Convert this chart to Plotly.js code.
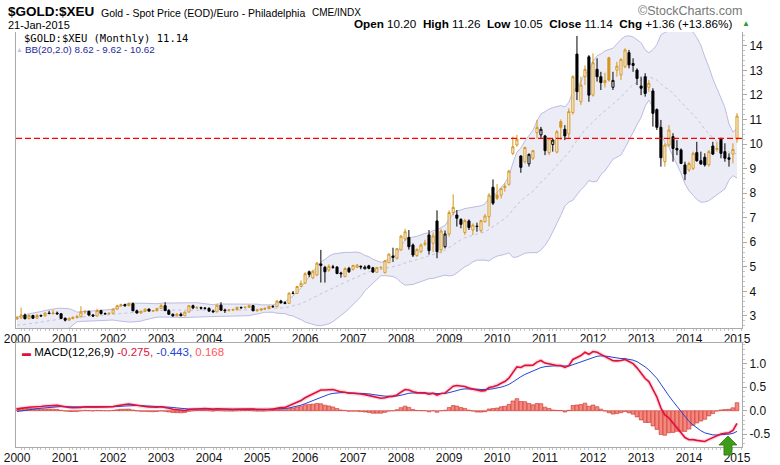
<!DOCTYPE html>
<html><head><meta charset="utf-8">
<script src="https://cdn.plot.ly/plotly-3.0.1.min.js"></script>
<style>html,body{margin:0;padding:0;background:#fff;}#chart{width:780px;height:465px;}</style>
</head><body><div id="chart"></div>
<script>
// ---- data (monthly, Jan 2000 .. Jan 2015) ----
const startYear = 2000;
// closes Jan 1998 .. Dec 1999, only used to warm up BB(20) and MACD
const priorClose = [2.81,2.72,2.78,2.82,2.64,2.69,2.62,2.44,2.49,2.50,2.53,2.46,
                    2.51,2.61,2.60,2.71,2.58,2.53,2.39,2.40,2.79,2.83,2.90,2.88];
const open = [
 2.88,2.92,3.04,2.89,3.02,2.91,3.02,3.00,3.12,3.10,3.12,3.09,
 2.90,2.83,2.90,2.94,2.97,3.16,3.19,3.04,3.00,3.22,3.10,3.09,
 3.11,3.28,3.42,3.46,3.42,3.50,3.21,3.12,3.19,3.28,3.20,3.22,
 3.31,3.42,3.22,3.07,3.01,3.07,3.01,3.16,3.42,3.33,3.34,3.32,
 3.31,3.20,3.17,3.44,3.24,3.22,3.25,3.26,3.35,3.34,3.35,3.42,
 3.21,3.24,3.28,3.30,3.39,3.38,3.61,3.54,3.51,3.93,3.92,4.20,
 4.34,4.80,4.55,4.67,5.12,4.98,4.87,5.00,4.99,4.75,4.60,4.94,
 4.90,4.98,5.02,4.92,5.04,4.96,4.78,4.97,4.76,5.17,5.44,5.35,
 5.69,6.13,6.20,5.89,5.46,5.62,5.92,6.30,5.96,6.87,5.69,5.82,
 6.34,7.21,7.11,6.93,6.40,6.87,6.50,6.66,6.47,6.84,7.04,8.24,
 7.92,7.92,8.23,8.36,9.62,9.96,9.51,9.28,9.19,9.42,10.46,10.37,
 10.33,9.65,9.98,9.67,10.91,10.60,10.41,11.28,13.66,11.72,12.74,13.55,
 11.99,13.04,12.74,12.50,13.51,12.31,13.01,12.81,13.15,13.72,13.28,13.01,
 12.36,12.74,12.31,12.16,11.40,10.68,9.28,9.96,10.30,9.82,9.76,9.15,
 8.94,9.01,9.65,9.32,9.46,9.15,9.92,9.78,10.23,9.69,9.44,9.59,
 10.20];
const high = [
 3.00,3.34,3.10,3.06,3.05,3.08,3.06,3.14,3.21,3.25,3.18,3.12,
 2.95,2.94,2.99,3.05,3.40,3.22,3.21,3.08,3.30,3.25,3.14,3.14,
 3.30,3.46,3.50,3.50,3.55,3.55,3.26,3.22,3.30,3.30,3.24,3.33,
 3.50,3.56,3.28,3.10,3.12,3.14,3.18,3.44,3.46,3.40,3.38,3.36,
 3.35,3.26,3.46,3.56,3.30,3.28,3.30,3.38,3.38,3.40,3.46,3.45,
 3.28,3.32,3.36,3.42,3.44,3.64,3.66,3.60,3.96,4.02,4.22,4.45,
 4.78,4.85,4.88,5.20,5.69,5.04,5.10,5.08,5.03,4.80,4.98,5.00,
 5.08,5.12,5.06,5.06,5.08,5.00,5.00,5.02,5.27,5.55,5.78,5.76,
 6.30,6.55,6.50,5.95,5.75,5.95,6.10,6.50,6.40,7.30,6.55,6.48,
 7.30,7.95,7.31,6.98,6.95,6.93,6.77,6.80,6.92,7.15,8.00,8.56,
 8.37,8.20,8.40,8.95,10.30,10.37,9.55,9.89,9.62,9.76,10.98,10.70,
 10.37,10.25,10.23,10.57,11.00,10.77,11.45,12.80,14.40,12.75,13.20,13.62,
 13.69,13.49,12.94,12.90,13.55,12.94,13.35,13.49,13.90,13.83,13.49,13.08,
 12.74,12.88,12.60,12.27,11.45,10.98,10.03,10.77,10.44,10.16,9.82,9.28,
 9.28,9.69,10.09,9.69,9.62,9.76,10.09,10.09,10.23,10.03,9.62,10.03,
 11.26];
const low = [
 2.85,2.90,2.86,2.87,2.88,2.89,2.97,2.98,3.07,3.05,3.05,2.88,
 2.78,2.80,2.86,2.90,2.95,3.08,3.00,2.96,2.98,3.06,3.05,3.05,
 3.09,3.25,3.38,3.38,3.40,3.20,3.10,3.10,3.16,3.18,3.16,3.19,
 3.28,3.20,3.04,2.96,2.98,2.99,2.99,3.14,3.28,3.28,3.26,3.26,
 3.16,3.14,3.15,3.20,3.12,3.18,3.20,3.22,3.28,3.30,3.33,3.20,
 3.18,3.20,3.24,3.28,3.33,3.36,3.50,3.48,3.50,3.88,3.90,4.18,
 4.30,4.58,4.50,4.62,4.36,4.36,4.80,4.92,4.70,4.56,4.58,4.75,
 4.85,4.95,4.90,4.90,4.90,4.75,4.76,4.88,4.74,5.15,5.20,5.30,
 5.66,6.05,5.70,5.40,5.40,5.55,5.85,5.50,5.60,5.35,5.55,5.75,
 6.23,7.10,6.64,6.57,6.30,6.50,6.30,6.43,6.40,6.80,6.64,7.52,
 7.72,7.78,8.06,8.30,9.55,9.89,8.83,9.21,9.08,9.35,10.23,10.23,
 9.55,9.55,9.69,9.62,10.16,10.16,10.20,11.20,11.79,11.59,12.40,11.72,
 11.93,12.54,12.20,12.30,12.54,12.20,12.74,12.60,13.08,13.08,12.94,12.40,
 11.99,11.93,12.13,10.71,10.57,9.08,9.08,9.89,9.28,9.55,9.21,8.53,
 8.87,8.94,9.28,9.15,9.08,9.08,9.55,9.69,9.42,9.28,9.08,9.21,
 10.05];
const close = [
 2.92,3.04,2.89,3.02,2.91,3.02,3.00,3.12,3.10,3.12,3.09,2.90,
 2.83,2.90,2.94,2.97,3.16,3.19,3.04,3.00,3.22,3.10,3.09,3.11,
 3.28,3.42,3.46,3.42,3.50,3.21,3.12,3.19,3.28,3.20,3.22,3.31,
 3.42,3.22,3.07,3.01,3.07,3.01,3.16,3.42,3.33,3.34,3.32,3.31,
 3.20,3.17,3.44,3.24,3.22,3.25,3.26,3.35,3.34,3.35,3.42,3.21,
 3.24,3.28,3.30,3.39,3.38,3.61,3.54,3.51,3.93,3.92,4.20,4.33,
 4.72,4.69,4.82,5.15,5.06,4.80,5.02,4.98,4.73,4.72,4.93,4.80,
 5.06,5.07,5.00,4.99,4.94,4.79,4.97,4.98,5.25,5.52,5.39,5.74,
 6.25,6.43,5.82,5.48,5.71,5.89,5.96,5.66,6.26,5.62,6.46,6.34,
 7.21,7.42,6.98,6.73,6.88,6.60,6.70,6.64,6.88,7.07,7.92,7.59,
 7.79,8.20,8.28,8.90,9.89,10.19,9.05,9.86,9.58,9.73,10.68,10.60,
 9.73,10.22,10.16,10.50,10.68,10.33,11.32,12.74,12.13,12.40,13.04,11.99,
 13.31,12.74,12.50,12.58,12.60,12.59,13.17,13.45,13.83,13.22,13.20,12.67,
 12.27,12.06,12.47,11.25,10.68,9.44,9.96,10.57,9.82,9.76,9.21,8.78,
 9.21,9.62,9.32,9.19,9.15,9.69,9.59,9.82,9.62,9.42,9.38,9.78,
 11.14];
const resistanceLevel = 10.23;
const arrowDate = '2014-10-24';
const headerTitle = '$GOLD:$XEU';
const headerName = 'Gold - Spot Price (EOD)/Euro - Philadelphia';
const headerExch = 'CME/INDX';
const headerDate = '21-Jan-2015';
const quoteText = '<b>Open</b> 10.20  <b>High</b> 11.26  <b>Low</b> 10.05  <b>Close</b> 11.14  <b>Chg</b> +1.36 (+13.86%)';
const legendPrice = '$GOLD:$XEU (Monthly) 11.14';
const legendBB = 'BB(20,2.0) 8.62 - 9.62 - 10.62';
const macdValues = ['-0.275', '-0.443', '0.168'];
const macdTickVals = [-0.5, 0, 0.5, 1.0];
const macdTickText = ['-0.5', '0.0', '0.5', '1.0'];

// ---- derived ----
const months = close.map((_, i) => {
  const y = startYear + Math.floor(i / 12), m = i % 12 + 1;
  return y + '-' + (m < 10 ? '0' + m : m) + '-01';
});
const allClose = priorClose.concat(close);
const P = priorClose.length;
function ema(a, n) { const k = 2 / (n + 1); const out = []; let p = a[0];
  a.forEach((v, i) => { p = i === 0 ? v : v * k + p * (1 - k); out.push(p); }); return out; }
const e12 = ema(allClose, 12), e26 = ema(allClose, 26);
const macdAll = e12.map((v, i) => v - e26[i]);
const sigAll = ema(macdAll, 9);
const macd = macdAll.slice(P), signal = sigAll.slice(P);
const hist = macd.map((v, i) => v - signal[i]);
const bbMid = [], bbUp = [], bbLo = [];
for (let i = P; i < allClose.length; i++) {
  const w = allClose.slice(i - 19, i + 1);
  const m = w.reduce((s, v) => s + v, 0) / 20;
  const sd = Math.sqrt(w.reduce((s, v) => s + (v - m) * (v - m), 0) / 20);
  bbMid.push(m); bbUp.push(m + 2 * sd); bbLo.push(m - 2 * sd);
}
const prevClose = [priorClose[P - 1]].concat(close.slice(0, -1));
const upIdx = [], dnIdx = [];
close.forEach((c, i) => (c >= prevClose[i] ? upIdx : dnIdx).push(i));

const ORANGE = '#d4961e', BLACK = '#000000';
function candles(idx, color) {
  return { type: 'candlestick', xaxis: 'x', yaxis: 'y3',
    x: idx.map(i => months[i]), open: idx.map(i => open[i]), high: idx.map(i => high[i]),
    low: idx.map(i => low[i]), close: idx.map(i => close[i]),
    increasing: { line: { color: color, width: 1 }, fillcolor: '#ffffff' },
    decreasing: { line: { color: color, width: 1 }, fillcolor: color },
    whiskerwidth: 0, hoverinfo: 'skip', showlegend: false };
}

const traces = [
  { type: 'scatter', mode: 'lines', x: months, y: bbLo, line: { color: '#bcbce0', width: 1 }, hoverinfo: 'skip', xaxis: 'x', yaxis: 'y' },
  { type: 'scatter', mode: 'lines', x: months, y: bbUp, line: { color: '#bcbce0', width: 1 }, fill: 'tonexty', fillcolor: '#ececf7', hoverinfo: 'skip', xaxis: 'x', yaxis: 'y' },
  { type: 'scatter', mode: 'lines', x: months, y: bbMid, line: { color: '#c4c4d8', width: 1, dash: 'dot' }, hoverinfo: 'skip', xaxis: 'x', yaxis: 'y' },
  candles(upIdx, ORANGE),
  candles(dnIdx, BLACK),
  { type: 'bar', x: months, y: hist, xaxis: 'x2', yaxis: 'y2', marker: { color: '#f6877c', line: { color: '#c8302c', width: 0.6 } }, hoverinfo: 'skip' },
  { type: 'scatter', mode: 'lines', x: months, y: macd, xaxis: 'x2', yaxis: 'y2', line: { color: 'rgba(230,60,90,0.18)', width: 4 }, hoverinfo: 'skip' },
  { type: 'scatter', mode: 'lines', x: months, y: signal, xaxis: 'x2', yaxis: 'y2', line: { color: '#2244d0', width: 1 }, hoverinfo: 'skip' },
  { type: 'scatter', mode: 'lines', x: months, y: macd, xaxis: 'x2', yaxis: 'y2', line: { color: '#e0103c', width: 1.6 }, hoverinfo: 'skip' }
];

const FONT = 'Liberation Sans, Arial, sans-serif';
const priceRange = [2.51, 14.56];
const xCommon = { type: 'date', range: ['1999-12-24', '2015-02-08'], rangeslider: { visible: false },
  tickformat: '%Y', dtick: 'M12', tick0: '2000-01-01', ticks: '',
  showline: true, linecolor: '#aaa', linewidth: 1, showgrid: false, zeroline: false,
  minor: { dtick: 'M1', ticks: 'outside', ticklen: 2, tickcolor: '#c4c4c4' },
  tickfont: { family: FONT, size: 12, color: '#111' } };
const layout = {
  width: 780, height: 465, margin: { l: 16, r: 38, t: 32, b: 18 },
  paper_bgcolor: '#fff', plot_bgcolor: '#fff', showlegend: false, boxgap: 0.2, bargap: 0,
  font: { family: FONT, size: 12, color: '#111' },
  xaxis: Object.assign({}, xCommon, { anchor: 'y', mirror: false }),
  xaxis2: Object.assign({}, xCommon, { anchor: 'y2', matches: 'x', mirror: true }),
  yaxis: { domain: [0.2867, 1], side: 'right', range: priceRange, dtick: 1, ticks: 'outside', ticklen: 4,
    tickcolor: '#aaa', showline: true, linecolor: '#aaa', mirror: true, showgrid: false, zeroline: false,
    minor: { dtick: 0.2, ticks: 'outside', ticklen: 2, tickcolor: '#c4c4c4' }, tickfont: { family: FONT, size: 12, color: '#111' } },
  yaxis3: { overlaying: 'y', side: 'right', range: priceRange, visible: false, showgrid: false, zeroline: false },
  yaxis2: { domain: [0, 0.2513], side: 'right', range: [-0.772, 1.447], tickvals: macdTickVals, ticktext: macdTickText,
    ticks: 'outside', ticklen: 4, tickcolor: '#aaa', showline: true, linecolor: '#aaa', mirror: true, showgrid: false,
    zeroline: false, minor: { dtick: 0.1, ticks: 'outside', ticklen: 2, tickcolor: '#c4c4c4' }, tickfont: { family: FONT, size: 12, color: '#111' } },
  shapes: [
    { type: 'line', xref: 'paper', x0: 0, x1: 1, yref: 'y', y0: resistanceLevel, y1: resistanceLevel, layer: 'above',
      line: { color: '#ff0000', width: 1.3, dash: '6px,3px' } },
    { type: 'path', xref: 'x2', xsizemode: 'pixel', xanchor: arrowDate, yref: 'paper', ysizemode: 'pixel', yanchor: 0,
      path: 'M-4,-8 L4,-8 L4,2 L9,2 L0,11 L-9,2 L-4,2 Z', fillcolor: '#3e9c18', line: { color: '#2e7a10', width: 0.8 } }
  ],
  annotations: [
    { xref: 'paper', yref: 'paper', x: -0.0138, y: 1.0482, xanchor: 'left', yanchor: 'middle', showarrow: false,
      text: '<b>' + headerTitle + '</b>', font: { family: FONT, size: 13.5, color: '#000' } },
    { xref: 'paper', yref: 'paper', x: 0.1143, y: 1.0458, xanchor: 'left', yanchor: 'middle', showarrow: false,
      text: headerName, font: { family: FONT, size: 10.5, color: '#000' } },
    { xref: 'paper', yref: 'paper', x: 0.4050, y: 1.0458, xanchor: 'left', yanchor: 'middle', showarrow: false,
      text: headerExch, font: { family: FONT, size: 10, color: '#000' } },
    { xref: 'paper', yref: 'paper', x: -0.0138, y: 1.0169, xanchor: 'left', yanchor: 'middle', showarrow: false,
      text: headerDate, font: { family: FONT, size: 11, color: '#000' } },
    { xref: 'paper', yref: 'paper', x: 0.989, y: 1.0205, xanchor: 'right', yanchor: 'middle', showarrow: false,
      text: quoteText, font: { family: FONT, size: 11.7, color: '#000' } },
    { xref: 'paper', yref: 'paper', x: 1.0055, y: 1.0205, xanchor: 'center', yanchor: 'middle', showarrow: false,
      text: '▲', font: { family: FONT, size: 8, color: '#2e9a2e' } },
    { xref: 'paper', yref: 'paper', x: 1.0028, y: 1.0518, xanchor: 'right', yanchor: 'middle', showarrow: false,
      text: '©StockCharts.com', font: { family: FONT, size: 12.5, color: '#777' } },
    { xref: 'paper', yref: 'paper', x: 0.0083, y: 0.9855, xanchor: 'left', yanchor: 'middle', showarrow: false,
      text: legendPrice, font: { family: 'DejaVu Sans Mono, monospace', size: 10.5, color: '#000' } },
    { xref: 'paper', yref: 'paper', x: 0.0048, y: 0.9590, xanchor: 'center', yanchor: 'middle', showarrow: false,
      text: '▲', font: { family: FONT, size: 7, color: '#c4c4e8' } },
    { xref: 'paper', yref: 'paper', x: 0.0096, y: 0.9590, xanchor: 'left', yanchor: 'middle', showarrow: false,
      text: legendBB, font: { family: FONT, size: 9.8, color: '#1c2aa0' } },
    { xref: 'paper', yref: 'paper', x: 0.0055, y: 0.2285, xanchor: 'left', yanchor: 'middle', showarrow: false,
      text: '<span style="color:#e0103c;font-size:9px">▬</span> MACD(12,26,9) <span style="color:#e0103c">' + macdValues[0] +
        ',</span> <span style="color:#2244d0">' + macdValues[1] + ',</span> <span style="color:#ff5a5a">' + macdValues[2] + '</span>',
      font: { family: FONT, size: 11.5, color: '#000' } }
  ]
};
Plotly.newPlot('chart', traces, layout, { staticPlot: true, displayModeBar: false });
</script></body></html>
